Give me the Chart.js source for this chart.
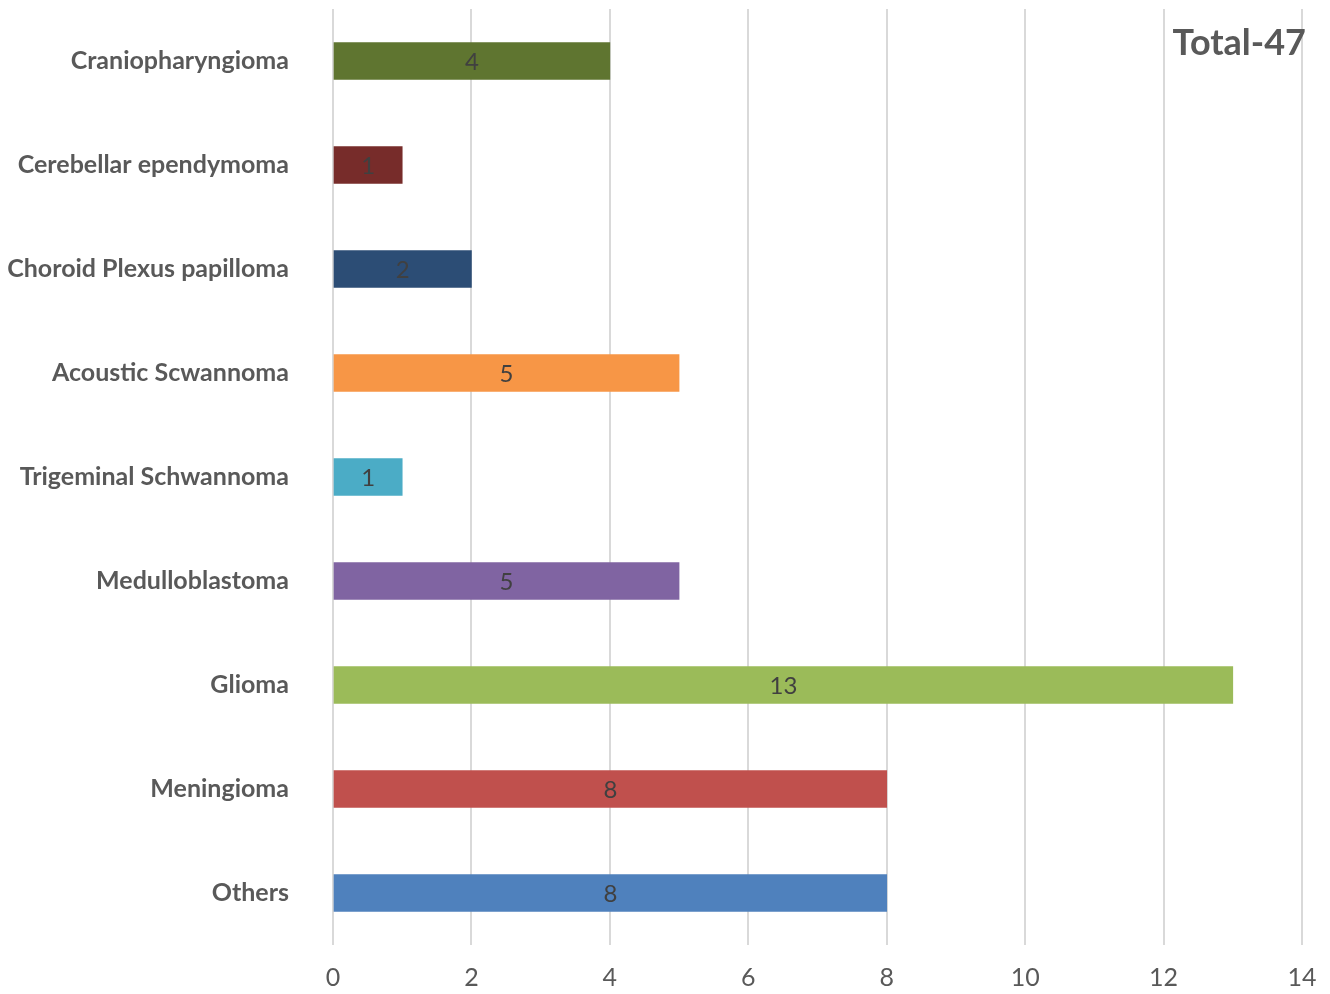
<!DOCTYPE html>
<html>
<head>
<meta charset="utf-8">
<script src="https://cdn.jsdelivr.net/npm/chart.js@4"></script>
<style>
	html, body { margin: 0; padding: 0; background: #fff; }
	#wrap { width: 1330px; height: 994px; }
</style>
</head>
<body>
<div id="wrap"><canvas id="tumours" width="1330" height="994"></canvas></div>
<script>
// tumour types, top to bottom as in the picture
const categories = ['Craniopharyngioma', 'Cerebellar ependymoma', 'Choroid Plexus papilloma',
	'Acoustic Scwannoma', 'Trigeminal Schwannoma', 'Medulloblastoma', 'Glioma', 'Meningioma', 'Others'];
const counts = [4, 1, 2, 5, 1, 5, 13, 8, 8];
const barColours = ['#5f7530', '#772c2a', '#2c4d75', '#f79646', '#4bacc6', '#8064a2', '#9bbb59', '#c0504d', '#4f81bd'];
const xTicks = [0, 2, 4, 6, 8, 10, 12, 14];
const totalLabel = 'Total-47';

const FONT = 'Lato, "Open Sans", sans-serif';

// value in the middle of each bar, plus the total in the corner
const barLabels = {
	id: 'barLabels',
	afterDatasetsDraw(chart){
		const ctx = chart.ctx;
		const meta = chart.getDatasetMeta(0);
		ctx.save();
		ctx.font = '24px ' + FONT;
		ctx.fillStyle = '#404040';
		ctx.textAlign = 'center';
		ctx.textBaseline = 'middle';
		meta.data.forEach(function(bar, i){
			const mid = (bar.x + bar.base) / 2;
			ctx.fillText(String(counts[i]), mid, bar.y + 1);
		});
		const area = chart.chartArea;
		ctx.font = 'bold 36px ' + FONT;
		ctx.fillStyle = '#595959';
		ctx.textAlign = 'right';
		ctx.fillText(totalLabel, area.right + 4, 43);
		ctx.restore();
	}
};

new Chart(document.getElementById('tumours').getContext('2d'), {
	type: 'bar',
	data: {
		labels: categories,
		datasets: [{
			data: counts,
			backgroundColor: barColours,
			barThickness: 37
		}]
	},
	options: {
		indexAxis: 'y',
		responsive: false,
		devicePixelRatio: 1,
		animation: false,
		layout: { padding: { top: 9, right: 28, bottom: 0, left: 0 } },
		plugins: { legend: { display: false }, tooltip: { enabled: false } },
		scales: {
			x: {
				min: 0, max: 14,
				afterBuildTicks(scale){ scale.ticks = xTicks.map(v => ({ value: v })); },
				afterFit(scale){
					scale.height = 49;
					scale.paddingLeft = 0; scale.paddingRight = 0;
				},
				grid: { color: '#d9d9d9', lineWidth: 2, drawTicks: false },
				border: { display: false },
				ticks: { color: '#595959', font: { family: FONT, size: 25 }, padding: 18, maxRotation: 0 }
			},
			y: {
				afterFit(scale){
					scale.width = 333;
					scale.paddingTop = 0; scale.paddingBottom = 0;
				},
				grid: { display: false },
				border: { display: false },
				ticks: { color: '#595959', font: { family: FONT, size: 25, weight: 'bold' }, padding: 36 }
			}
		}
	},
	plugins: [barLabels]
});
</script>
</body>
</html>
